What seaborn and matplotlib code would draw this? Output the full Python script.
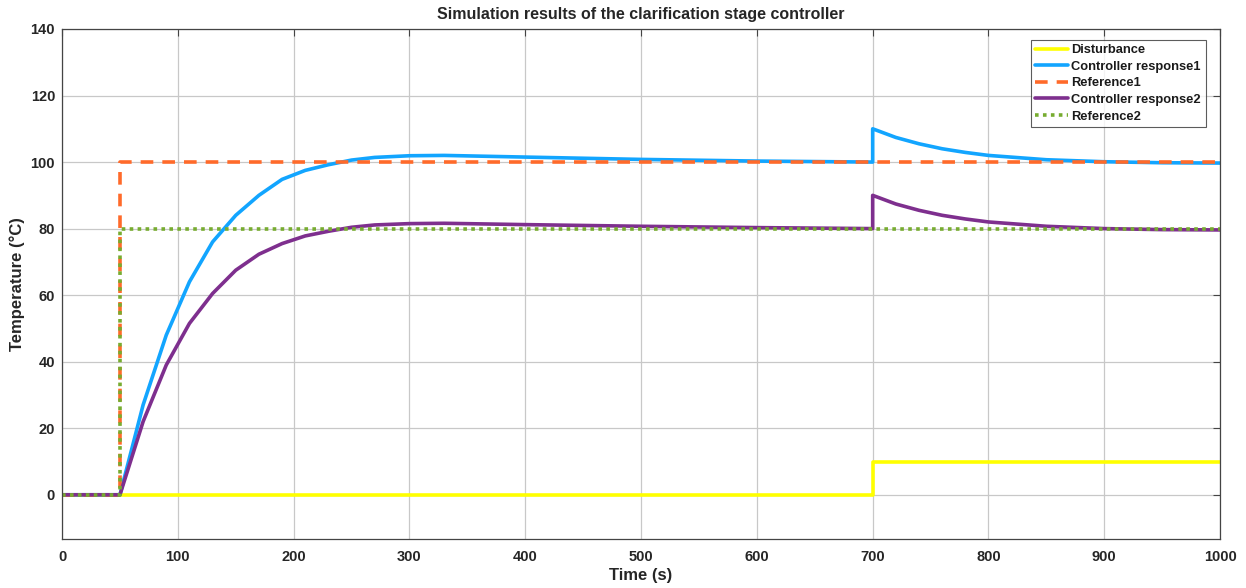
import numpy as np
import pandas as pd
import matplotlib
matplotlib.use("Agg")
import matplotlib.pyplot as plt
import seaborn as sns

# ---- data ----
dist_t = [0, 700, 700, 1000]
dist_v = [0, 0, 10, 10]

ref1_t = [0, 50, 50, 1000]
ref1_v = [0, 0, 100, 100]
ref2_t = [0, 50, 50, 1000]
ref2_v = [0, 0, 80, 80]

resp1_t = [0, 50, 70, 90, 110, 130, 150, 170, 190, 210, 230, 250, 270, 300, 330,
           400, 500, 600, 700, 700, 720, 740, 760, 780, 800, 850, 900, 950, 1000]
resp1_v = [0, 0, 27, 48, 64, 76, 84, 90, 94.8, 97.5, 99.2, 100.6, 101.4, 101.9, 102,
           101.5, 100.8, 100.3, 100, 110, 107.4, 105.5, 104, 102.9, 102, 100.7, 100.1, 99.8, 99.7]

resp2_t = [0, 50, 70, 90, 110, 130, 150, 170, 190, 210, 230, 250, 270, 300, 330,
           400, 500, 600, 700, 700, 720, 740, 760, 780, 800, 850, 900, 950, 1000]
resp2_v = [0, 0, 22, 39, 51.5, 60.5, 67.5, 72.3, 75.5, 77.8, 79.2, 80.4, 81.1, 81.5, 81.6,
           81.2, 80.7, 80.3, 80, 90, 87.4, 85.5, 84, 82.9, 82, 80.7, 80.0, 79.7, 79.6]

labels = ["Disturbance", "Controller response1", "Reference1", "Controller response2", "Reference2"]
colors = ["#FFFF00", "#12A5FF", "#FF6A2A", "#7E2F8E", "#77AC30"]

sns.set_style("white")
plt.rcParams['font.family'] = ['Liberation Sans', 'DejaVu Sans']

fig = plt.figure(figsize=(12.46, 5.88), dpi=100)
ax = fig.add_axes([0.0498, 0.0833, 0.9294, 0.8674])

series = [
    (dist_t, dist_v, labels[0], colors[0], '-'),
    (resp1_t, resp1_v, labels[1], colors[1], '-'),
    (ref1_t, ref1_v, labels[2], colors[2], (0, (3.5, 2.5))),
    (resp2_t, resp2_v, labels[3], colors[3], '-'),
    (ref2_t, ref2_v, labels[4], colors[4], (0, (1, 1.2))),
]
for t, v, lab, c, ls in series:
    df = pd.DataFrame({"t": t, "v": v})
    sns.lineplot(data=df, x="t", y="v", estimator=None, sort=False, ax=ax,
                 color=c, linestyle=ls, linewidth=2.6, label=lab)

ax.set_xlim(0, 1000)
ax.set_ylim(-13.3, 140)
ax.set_xticks(np.arange(0, 1001, 100))
ax.set_yticks(np.arange(0, 141, 20))
ax.grid(True, color="#c8c8c8", linewidth=0.9)
ax.tick_params(direction="in", length=5, width=0.8, color="#444444", labelsize=10.5,
               top=True, right=True)
ax.tick_params(axis="y", pad=5)
ax.tick_params(axis="x", pad=8)
for lbl in ax.get_xticklabels() + ax.get_yticklabels():
    lbl.set_fontweight("bold")
    lbl.set_color("#262626")
for s in ax.spines.values():
    s.set_color("#444444")
    s.set_linewidth(0.9)

ax.set_xlabel("Time (s)", fontsize=12, fontweight="bold", color="#262626", labelpad=3)
ax.set_ylabel("Temperature (°C)", fontsize=12, fontweight="bold", color="#262626", labelpad=4)
ax.set_title("Simulation results of the clarification stage controller", fontsize=11.5,
             fontweight="bold", color="#262626", pad=7.5)

leg = ax.legend(loc="upper right", bbox_to_anchor=(0.9875, 0.979), fontsize=9.3,
                frameon=True, fancybox=False, handlelength=2.5, handletextpad=0.3,
                borderpad=0.35, labelspacing=0.35, borderaxespad=0.0)
leg.get_frame().set_edgecolor("#333333")
leg.get_frame().set_linewidth(0.8)
for txt in leg.get_texts():
    txt.set_fontweight("bold")
    txt.set_color("#1a1a1a")

fig.savefig("out.png", dpi=100)
